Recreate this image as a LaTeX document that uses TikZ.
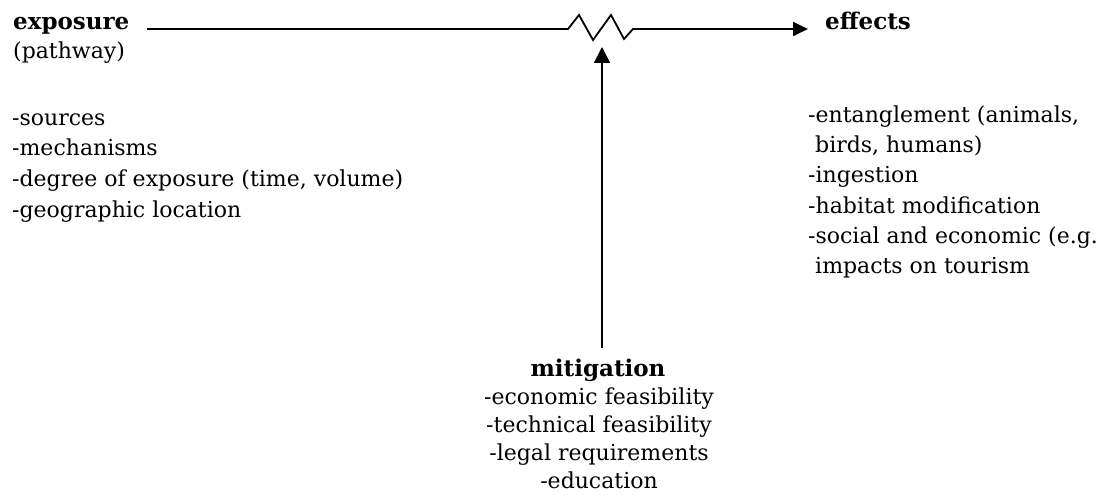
\documentclass[tikz,border=0pt]{standalone}
\usepackage{fontspec}
\setmainfont{DejaVu Serif}
\usetikzlibrary{arrows.meta}
\begin{document}
\begin{tikzpicture}[x=1pt,y=-1pt,
  txt/.style={inner sep=0pt, font=\fontsize{22}{30}\selectfont},
  lft/.style={txt, anchor=base west},
  ctr/.style={txt, anchor=base},
  hd/.style={font=\fontsize{23}{30}\selectfont\bfseries},
  conn/.style={line width=1.8pt, line join=miter, -{Triangle[length=15pt,width=14pt]}}]
\useasboundingbox (0,0) rectangle (1105,497);
% headings
\node[lft, hd] (exposure) at (13,30) {exposure};
\node[lft] (pathway) at (13,59) {(pathway)};
\node[lft, hd] (effects) at (825,30) {effects};
\node[ctr, hd] (mitigation) at (598,376) {mitigation};
% exposure list
\node[lft] (src) at (12,126) {-sources};
\node[lft] (mech) at (12,156) {-mechanisms};
\node[lft] (deg) at (12,187) {-degree of exposure (time, volume)};
\node[lft] (geo) at (12,217) {-geographic location};
% effects list
\node[lft] (ent) at (808,123) {-entanglement (animals,};
\node[lft] (bird) at (815,153) {birds, humans)};
\node[lft] (ing) at (808,183) {-ingestion};
\node[lft] (hab) at (808,213) {-habitat modification};
\node[lft] (soc) at (808,243) {-social and economic (e.g.};
\node[lft] (imp) at (815,273) {impacts on tourism};
% mitigation list
\node[ctr] (econ) at (599,404) {-economic feasibility};
\node[ctr] (tech) at (599,432) {-technical feasibility};
\node[ctr] (legal) at (599,460) {-legal requirements};
\node[ctr] (edu) at (599,488) {-education};
% connector points
\coordinate (lstart) at (147,29);
\coordinate (etip) at (808,29);
\coordinate (mbase) at (602,348);
\coordinate (mtip) at (602,47);
\draw[conn] (lstart) -- (568,29) -- (579,15) -- (593,40) -- (611,15) -- (624,39) -- (633,29) -- (etip);
\draw[conn, -{Triangle[length=16pt,width=16pt]}] (mbase) -- (mtip);
\end{tikzpicture}
\end{document}
